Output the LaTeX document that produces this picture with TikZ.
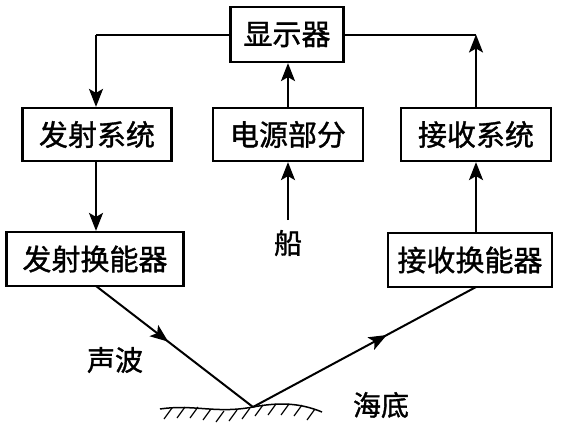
\documentclass[tikz,border=0pt]{standalone}
\usepackage{fontspec}
\newfontfamily\cjk[FakeBold=1.2]{Noto Sans CJK SC}
\usetikzlibrary{arrows.meta,decorations.markings}
\begin{document}
\begin{tikzpicture}[x=1pt,y=-1pt,
  blk/.style={draw,line width=2.2pt,minimum height=53pt,inner sep=0pt,font=\cjk\fontsize{29}{29}\selectfont},
  lbl/.style={inner sep=0pt,font=\cjk\fontsize{28}{28}\selectfont},
  conn/.style={line width=2pt},
  arr/.style={conn,-{Stealth[length=18pt,width=14pt,inset=4pt]}},
  midarr/.style={conn,postaction={decorate},decoration={markings,mark=at position #1 with {\arrow{Stealth[length=18pt,width=14pt,inset=4pt]}}}}]
\useasboundingbox (0,0) rectangle (566,424);
\node[blk,minimum width=113pt,minimum height=55pt] (disp) at (287,34.5) {显示器};
\node[blk,minimum width=149pt] (tsys) at (97,134.5) {发射系统};
\node[blk,minimum width=150pt] (pwr) at (288,134.5) {电源部分};
\node[blk,minimum width=150pt] (rsys) at (476,134.5) {接收系统};
\node[blk,minimum width=177pt,minimum height=54pt] (ttr) at (95,259) {发射换能器};
\node[blk,minimum width=164pt,minimum height=54pt] (rtr) at (470,260) {接收换能器};
\node[lbl] (ship) at (288,243) {船};
\node[lbl] (wave) at (115,360) {声波};
\node[lbl] (sea) at (381,405) {海底};
\coordinate (lc) at (96,34.5);
\coordinate (rc) at (476,34.5);
\coordinate (refl) at (253,407);
\coordinate (ttrb) at (96,286);
\coordinate (rtrb) at (476,287);
\coordinate (shiptop) at (288,220);
% connectors
\draw[conn] (disp.west) -- (lc);
\draw[arr] (lc) -- (tsys.north -| lc);
\draw[arr] (tsys.south -| lc) -- (ttr.north -| lc);
\draw[arr] (pwr.north) -- (disp.south -| pwr.north);
\draw[arr] (shiptop) -- (pwr.south);
\draw[arr] (rsys.north) -- (rc);
\draw[conn] (rc) -- (disp.east);
\draw[arr] (rtr.north -| rsys.south) -- (rsys.south);
\draw[midarr=0.46] (ttrb) -- (refl);
\draw[midarr=0.6] (refl) -- (rtrb);
% sea floor
\draw[line width=1.5pt] (160,409) .. controls (195,404) and (215,414) .. (253,407)
  .. controls (280,402) and (300,403) .. (322,412);
\foreach \x/\y in {172/408,185/407,198/407,211/409,224/411,237/410,250/408,263/405,276/404,289/404,302/405,315/409}
  \draw[line width=1.2pt] (\x,\y) -- ++(-8,11);
\end{tikzpicture}
\end{document}
